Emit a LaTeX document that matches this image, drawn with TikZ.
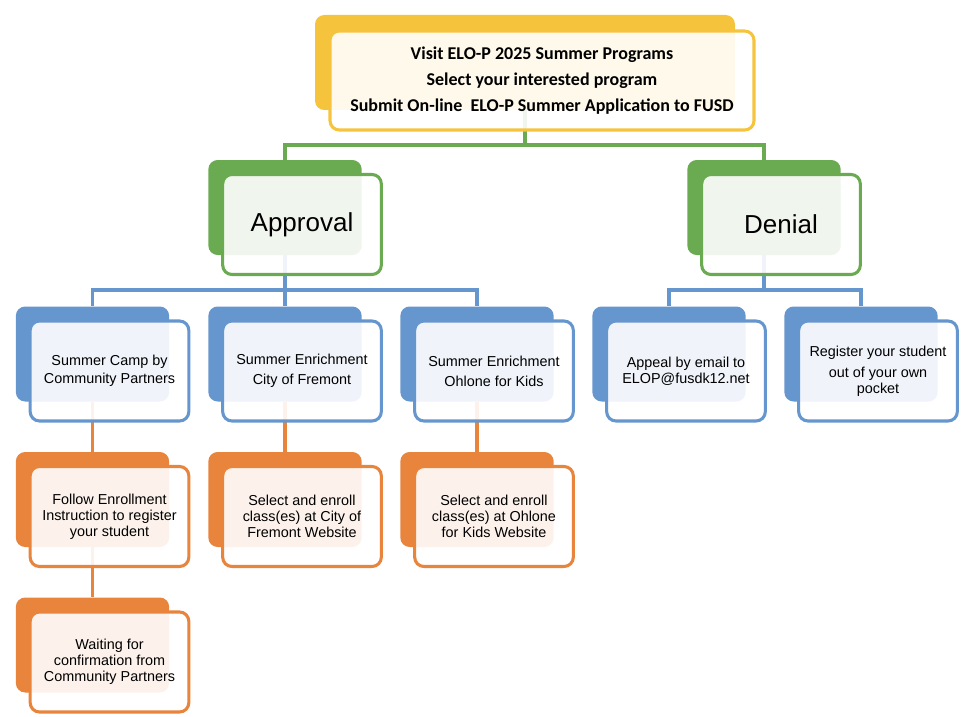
\documentclass[tikz,border=0pt]{standalone}
\usepackage{fontspec}
\setmainfont{Liberation Sans}
\newfontfamily\calibrifont{Carlito}
\usepackage{tikz}
\usetikzlibrary{positioning, backgrounds}
\definecolor{eloyellow}{RGB}{246, 196, 60}
\definecolor{elogreen}{RGB}{106, 170, 80}
\definecolor{eloblue}{RGB}{102, 150, 206}
\definecolor{eloorange}{RGB}{232, 132, 60}

\tikzset{
    backbox/.style={fill=#1, rounded corners=7pt, minimum width=115pt,
          minimum height=71.25pt, inner sep=0pt},
    frontbox/.style={draw=#1, line width=2.3pt, fill=white, fill opacity=0.9,
          text opacity=1, rounded corners=7pt, minimum width=119pt,
          minimum height=75pt, inner sep=2pt, align=center,
          font=\fontsize{10.8}{12}\selectfont},
    bigtext/.style={font=\fontsize{19.5}{22}\selectfont},
    link/.style={draw=#1, line width=2.4pt}
}

\begin{document}
\begin{tikzpicture}[x=0.75pt, y=-0.75pt]
    \useasboundingbox (0,0) rectangle (971,717);

    % top
    \node[backbox=eloyellow, minimum width=315pt] (topb) at (525,62.5) {};
    \node[frontbox=eloyellow, minimum width=318pt, minimum height=74.25pt,
          font=\calibrifont\bfseries\fontsize{13.5}{19.5}\selectfont]
          (topf) at ([shift={(17,18)}]topb.center) {
        Visit ELO-P 2025 Summer Programs\\
        Select your interested program\\
        Submit On-line~ ELO-P Summer Application to FUSD
    };

    % approval / denial
    \node[backbox=elogreen] (appb) at (285,207.5) {};
    \node[frontbox=elogreen, bigtext] (appf) at ([shift={(17,17)}]appb.center) {\raisebox{-3pt}{Approval}};
    \node[backbox=elogreen] (denb) at (764,207.5) {};
    \node[frontbox=elogreen, bigtext] (denf) at ([shift={(17,17)}]denb.center) {Denial};

    % blue row
    \node[backbox=eloblue] (campb) at (92.5,354) {};
    \node[frontbox=eloblue] (campf) at ([shift={(17,17)}]campb.center) {
        Summer Camp by\\[1.5pt] Community Partners};
    \node[backbox=eloblue] (fremb) at (285,354) {};
    \node[frontbox=eloblue] (fremf) at ([shift={(17,17)}]fremb.center) {
        Summer Enrichment\\[3pt] City of Fremont};
    \node[backbox=eloblue] (ohlb) at (477,354) {};
    \node[frontbox=eloblue] (ohlf) at ([shift={(17,17)}]ohlb.center) {
        Summer Enrichment\\[3pt] Ohlone for Kids};
    \node[backbox=eloblue] (appealb) at (669,354) {};
    \node[frontbox=eloblue] (appealf) at ([shift={(17,17)}]appealb.center) {
        Appeal by email to\\ ELOP@fusdk12.net};
    \node[backbox=eloblue] (pocketb) at (861,354) {};
    \node[frontbox=eloblue] (pocketf) at ([shift={(17,17)}]pocketb.center) {
        Register your student\\[4pt] out of your own\\ pocket};

    % orange rows
    \node[backbox=eloorange] (followb) at (92.5,499.5) {};
    \node[frontbox=eloorange] (followf) at ([shift={(17,17)}]followb.center) {
        Follow Enrollment\\ Instruction to register\\ your student};
    \node[backbox=eloorange] (citywebb) at (285,499.5) {};
    \node[frontbox=eloorange] (citywebf) at ([shift={(17,17)}]citywebb.center) {
        Select and enroll\\ class(es) at City of\\ Fremont Website};
    \node[backbox=eloorange] (ohlwebb) at (477,499.5) {};
    \node[frontbox=eloorange] (ohlwebf) at ([shift={(17,17)}]ohlwebb.center) {
        Select and enroll\\ class(es) at Ohlone\\ for Kids Website};
    \node[backbox=eloorange] (waitb) at (92.5,645) {};
    \node[frontbox=eloorange] (waitf) at ([shift={(17,17)}]waitb.center) {
        Waiting for\\ confirmation from\\ Community Partners};

    % connectors
    \coordinate (gsplit) at (525,145);
    \coordinate (asplit) at (285,290);
    \coordinate (dsplit) at (764,290);
    \begin{scope}[on background layer]
        \draw[link=elogreen] (topb) -- (gsplit) -| (appb);
        \draw[link=elogreen] (gsplit) -| (denb);
        \draw[link=eloblue] (appb) -- (asplit) -| (campb);
        \draw[link=eloblue] (asplit) -| (ohlb);
        \draw[link=eloblue] (asplit) -- (fremb);
        \draw[link=eloblue] (denb) -- (dsplit) -| (appealb);
        \draw[link=eloblue] (dsplit) -| (pocketb);
        \draw[link=eloorange] (campb) -- (followb);
        \draw[link=eloorange] (followb) -- (waitb);
        \draw[link=eloorange] (fremb) -- (citywebb);
        \draw[link=eloorange] (ohlb) -- (ohlwebb);
    \end{scope}
\end{tikzpicture}
\end{document}
